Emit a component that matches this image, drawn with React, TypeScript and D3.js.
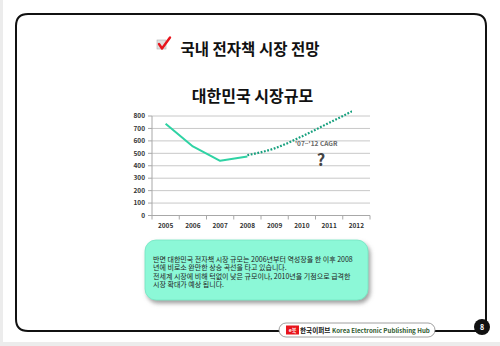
import React from 'react';
import * as d3 from 'd3';

// chart data
const years = ['2005', '2006', '2007', '2008', '2009', '2010', '2011', '2012'];
const actualYears = ['2005', '2006', '2007', '2008'];
const actualValues = [738, 555, 440, 475];
const forecastYears = ['2008', '2009', '2010', '2011', '2012'];
const forecastValues = [485, 540, 636, 745, 855];
const yTicks = [0, 100, 200, 300, 400, 500, 600, 700, 800];

const noteLines = [
  '반면 대한민국 전자책 시장 규모는 2006년부터 역성장을 한 이후 2008',
  '년에 비로소 완만한 상승 곡선을 타고 있습니다.',
  '전세계 시장에 비해 턱없이 낮은 규모이나, 2010년을 기점으로 급격한',
  '시장 확대가 예상 됩니다.'
];

const FONT = '"Noto Sans CJK KR", "Noto Sans", sans-serif';

const App = () => {
  const x = d3.scaleBand<string>().domain(years).range([152, 370]);
  const y = d3.scaleLinear().domain([0, 800]).range([215.5, 116]);
  const cx = (d: string) => (x(d) ?? 0) + x.bandwidth() / 2;

  const line = d3
    .line<[string, number]>()
    .x(d => cx(d[0]))
    .y(d => y(d[1]));
  const curve = d3
    .line<[string, number]>()
    .x(d => cx(d[0]))
    .y(d => y(d[1]))
    .curve(d3.curveMonotoneX);

  const actual = actualYears.map((d, i) => [d, actualValues[i]] as [string, number]);
  const forecast = forecastYears.map((d, i) => [d, forecastValues[i]] as [string, number]);

  const boundaries = years.map(d => x(d) ?? 0).concat([370]);

  // frame with a square bottom-right corner (page number circle sits there)
  const frame = 'M16,26 Q16,14 28,14 L474,14 Q486,14 486,26 L486,331 L28,331 Q16,331 16,319 Z';

  return (
    <svg
      width={500}
      height={346}
      style={{ position: 'absolute', left: 0, top: 0, fontFamily: FONT }}
    >
      <defs>
        <filter id="shadow" x="-10%" y="-10%" width="125%" height="140%">
          <feDropShadow dx="2" dy="3" stdDeviation="2" floodColor="#777" floodOpacity="0.7" />
        </filter>
        <clipPath id="plot">
          <rect x={152} y={100} width={200} height={120} />
        </clipPath>
      </defs>
      <rect x={0} y={0} width={500} height={346} fill="#fff" />
      <rect x={0} y={0} width={3} height={346} fill="#ececec" />
      <rect x={0} y={342} width={500} height={4} fill="#ececec" />

      <path d={frame} fill="none" stroke="#111" strokeWidth={2} />

      {/* header */}
      <rect x={157} y={40} width={9} height={9} fill="#e0e0e0" stroke="#b0b0b0" strokeWidth={0.6} />
      <path d="M159,44 L162,48.5 L170,37.5" fill="none" stroke="#e8141c" strokeWidth={2.4} strokeLinecap="round" strokeLinejoin="round" />
      <text x={250} y={54.5} textAnchor="middle" fontSize={15.5} fontWeight="bold" fill="#111">
        국내 전자책 시장 전망
      </text>

      {/* chart title */}
      <text x={252.5} y={101.5} textAnchor="middle" fontSize={16} fontWeight="bold" fill="#111">
        대한민국 시장규모
      </text>

      {/* grid */}
      {yTicks.map(t => (
        <g key={t}>
          <line x1={152} x2={370} y1={y(t)} y2={y(t)} stroke={t === 0 ? '#a8a8a8' : '#c8c8c8'} strokeWidth={1} />
          <line x1={148} x2={152} y1={y(t)} y2={y(t)} stroke="#a8a8a8" strokeWidth={1} />
          <text x={145} y={y(t) + 2.2} textAnchor="end" fontSize={6.5} fontWeight="bold" fill="#333">
            {t}
          </text>
        </g>
      ))}
      <line x1={152} x2={152} y1={y(800)} y2={y(0)} stroke="#a8a8a8" strokeWidth={1} />
      {boundaries.map((b, i) => (
        <line key={i} x1={b} x2={b} y1={y(0)} y2={y(0) + 4} stroke="#a8a8a8" strokeWidth={1} />
      ))}
      {years.map(d => (
        <text key={d} x={cx(d)} y={228} textAnchor="middle" fontSize={6.5} fontWeight="bold" fill="#333">
          {d}
        </text>
      ))}

      {/* series */}
      <path d={line(actual) ?? ''} fill="none" stroke="#2fd3a4" strokeWidth={2} strokeLinejoin="round" />
      <path
        d={curve(forecast) ?? ''}
        fill="none"
        stroke="#17a07e"
        strokeWidth={2.2}
        strokeDasharray="1.8,1.6"
        clipPath="url(#plot)"
      />

      <text x={295} y={146} fontSize={6.5} fontWeight="bold" fill="#666">
        {"'07~'12 CAGR"}
      </text>
      <text x={321} y={166} textAnchor="middle" fontSize={16.5} fontWeight="bold" fill="#444">
        ?
      </text>

      {/* note box */}
      <rect x={145} y={240} width={223} height={60} rx={11} fill="#8cf8d7" stroke="#74e4c2" strokeWidth={0.8} filter="url(#shadow)" />
      {noteLines.map((l, i) => (
        <text key={i} x={153} y={261.5 + i * 8.6} fontSize={7} fill="#222">
          {l}
        </text>
      ))}

      {/* footer */}
      <rect x={279} y={323} width={156} height={14} rx={7} fill="#fff" stroke="#888" strokeWidth={0.8} />
      <rect x={286} y={325.5} width={13} height={9} fill="#e8141c" />
      <text x={292.5} y={332.2} textAnchor="middle" fontSize={5} fontWeight="bold" fill="#fff">
        e북
      </text>
      <text x={300} y={332.5} fontSize={6.6} fontWeight="bold" fill="#111">
        한국이퍼브
      </text>
      <text x={332} y={332.5} fontSize={6.2} fontWeight="bold" fill="#2f5a2f">
        Korea Electronic Publishing Hub
      </text>
      <circle cx={482} cy={327} r={8} fill="#111" />
      <text x={482} y={329.5} textAnchor="middle" fontSize={7} fontWeight="bold" fill="#fff">
        8
      </text>
    </svg>
  );
};

export default App;
